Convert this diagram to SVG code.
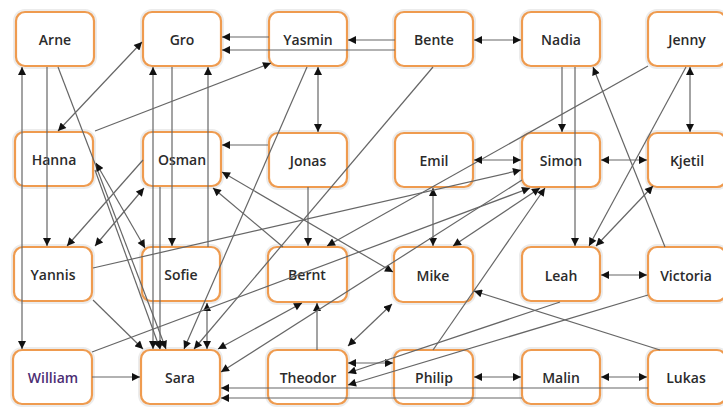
<svg xmlns="http://www.w3.org/2000/svg" width="723" height="407" viewBox="0 0 723 407">
<defs>
<marker id="a" viewBox="0 0 10 10" refX="10" refY="5" markerWidth="9" markerHeight="8" markerUnits="userSpaceOnUse" orient="auto-start-reverse"><path d="M0,0 L10,5 L0,10 z" fill="#111"/></marker>
</defs>
<style>
.n rect{fill:#fff;stroke:#ef9b4f;stroke-width:2.2}
.n .h{fill:none;stroke:#ececec;stroke-width:6}
.n text{font-family:"Open Sans","Noto Sans",sans-serif;font-size:14px;font-weight:600;fill:#2b2b2b;text-anchor:middle;dominant-baseline:central}
#edges line{stroke:#666;stroke-width:1.2;fill:none}
.e{marker-end:url(#a)}
.b{marker-start:url(#a);marker-end:url(#a)}
</style>
<rect width="723" height="407" fill="#fff"/>
<g id="nodes">
<g id="Arne" class="n"><rect class="h" x="16" y="12" width="78" height="54" rx="9"/><rect x="16" y="12" width="78" height="54" rx="9"/><text x="55" y="39">Arne</text></g>
<g id="Gro" class="n"><rect class="h" x="143" y="12" width="78" height="54" rx="9"/><rect x="143" y="12" width="78" height="54" rx="9"/><text x="182" y="39">Gro</text></g>
<g id="Yasmin" class="n"><rect class="h" x="269" y="12" width="78" height="54" rx="9"/><rect x="269" y="12" width="78" height="54" rx="9"/><text x="308" y="39">Yasmin</text></g>
<g id="Bente" class="n"><rect class="h" x="395" y="12" width="78" height="54" rx="9"/><rect x="395" y="12" width="78" height="54" rx="9"/><text x="434" y="39">Bente</text></g>
<g id="Nadia" class="n"><rect class="h" x="522" y="12" width="78" height="54" rx="9"/><rect x="522" y="12" width="78" height="54" rx="9"/><text x="561" y="39">Nadia</text></g>
<g id="Jenny" class="n"><rect class="h" x="648" y="12" width="78" height="54" rx="9"/><rect x="648" y="12" width="78" height="54" rx="9"/><text x="687" y="39">Jenny</text></g>
<g id="Hanna" class="n"><rect class="h" x="15" y="132" width="78" height="54" rx="9"/><rect x="15" y="132" width="78" height="54" rx="9"/><text x="54" y="159">Hanna</text></g>
<g id="Osman" class="n"><rect class="h" x="143" y="132" width="78" height="54" rx="9"/><rect x="143" y="132" width="78" height="54" rx="9"/><text x="182" y="159">Osman</text></g>
<g id="Jonas" class="n"><rect class="h" x="269" y="133" width="78" height="54" rx="9"/><rect x="269" y="133" width="78" height="54" rx="9"/><text x="308" y="160">Jonas</text></g>
<g id="Emil" class="n"><rect class="h" x="395" y="133" width="78" height="54" rx="9"/><rect x="395" y="133" width="78" height="54" rx="9"/><text x="434" y="160">Emil</text></g>
<g id="Simon" class="n"><rect class="h" x="522" y="133" width="78" height="54" rx="9"/><rect x="522" y="133" width="78" height="54" rx="9"/><text x="561" y="160">Simon</text></g>
<g id="Kjetil" class="n"><rect class="h" x="648" y="133" width="78" height="54" rx="9"/><rect x="648" y="133" width="78" height="54" rx="9"/><text x="687" y="160">Kjetil</text></g>
<g id="Yannis" class="n"><rect class="h" x="14" y="247" width="78" height="54" rx="9"/><rect x="14" y="247" width="78" height="54" rx="9"/><text x="53" y="274">Yannis</text></g>
<g id="Sofie" class="n"><rect class="h" x="142" y="247" width="78" height="54" rx="9"/><rect x="142" y="247" width="78" height="54" rx="9"/><text x="181" y="274">Sofie</text></g>
<g id="Bernt" class="n"><rect class="h" x="268" y="247" width="79" height="55" rx="9"/><rect x="268" y="247" width="79" height="55" rx="9"/><text x="307" y="274">Bernt</text></g>
<g id="Mike" class="n"><rect class="h" x="394" y="247" width="79" height="55" rx="9"/><rect x="394" y="247" width="79" height="55" rx="9"/><text x="433" y="275">Mike</text></g>
<g id="Leah" class="n"><rect class="h" x="522" y="247" width="78" height="54" rx="9"/><rect x="522" y="247" width="78" height="54" rx="9"/><text x="561" y="275">Leah</text></g>
<g id="Victoria" class="n"><rect class="h" x="648" y="247" width="78" height="54" rx="9"/><rect x="648" y="247" width="78" height="54" rx="9"/><text x="686" y="275">Victoria</text></g>
<g id="William" class="n"><rect class="h" x="13" y="350" width="79" height="54" rx="9"/><rect x="13" y="350" width="79" height="54" rx="9"/><text x="53" y="377" style="fill:#4b2d73">William</text></g>
<g id="Sara" class="n"><rect class="h" x="141" y="350" width="79" height="54" rx="9"/><rect x="141" y="350" width="79" height="54" rx="9"/><text x="180" y="377">Sara</text></g>
<g id="Theodor" class="n"><rect class="h" x="268" y="350" width="79" height="54" rx="9"/><rect x="268" y="350" width="79" height="54" rx="9"/><text x="308" y="377">Theodor</text></g>
<g id="Philip" class="n"><rect class="h" x="394" y="350" width="79" height="54" rx="9"/><rect x="394" y="350" width="79" height="54" rx="9"/><text x="434" y="377">Philip</text></g>
<g id="Malin" class="n"><rect class="h" x="522" y="350" width="78" height="54" rx="9"/><rect x="522" y="350" width="78" height="54" rx="9"/><text x="561" y="377">Malin</text></g>
<g id="Lukas" class="n"><rect class="h" x="648" y="350" width="78" height="54" rx="9"/><rect x="648" y="350" width="78" height="54" rx="9"/><text x="686" y="377">Lukas</text></g>
</g>
<g id="edges">
<line class="e" x1="269" y1="37" x2="222" y2="37"/>
<line class="e" x1="395" y1="50" x2="222" y2="50"/>
<line class="e" x1="395" y1="40" x2="348" y2="40"/>
<line class="b" x1="474" y1="40" x2="521" y2="40"/>
<line class="b" x1="22" y1="67" x2="22" y2="349"/>
<line class="e" x1="47" y1="67" x2="47" y2="246"/>
<line class="e" x1="58" y1="67" x2="166" y2="349"/>
<line class="b" x1="142" y1="42" x2="58" y2="131"/>
<line class="e" x1="95" y1="131" x2="271" y2="63"/>
<line class="b" x1="153" y1="67" x2="153" y2="349"/>
<line class="e" x1="172" y1="67" x2="172" y2="246"/>
<line class="e" x1="208" y1="247" x2="208" y2="67"/>
<line class="b" x1="207" y1="303" x2="207" y2="349"/>
<line class="e" x1="160" y1="187" x2="160" y2="349"/>
<line class="b" x1="318" y1="67" x2="318" y2="132"/>
<line class="e" x1="307" y1="67" x2="184" y2="349"/>
<line class="e" x1="433" y1="67" x2="194" y2="349"/>
<line class="e" x1="562" y1="67" x2="562" y2="132"/>
<line class="e" x1="575" y1="67" x2="575" y2="246"/>
<line class="e" x1="648" y1="66" x2="327" y2="246"/>
<line class="b" x1="690" y1="67" x2="690" y2="132"/>
<line class="e" x1="686" y1="67" x2="589" y2="246"/>
<line class="b" x1="601" y1="160" x2="647" y2="160"/>
<line class="b" x1="653" y1="186" x2="596" y2="246"/>
<line class="e" x1="665" y1="247" x2="593" y2="67"/>
<line class="b" x1="601" y1="275" x2="647" y2="275"/>
<line class="b" x1="601" y1="377" x2="647" y2="377"/>
<line class="b" x1="474" y1="377" x2="521" y2="377"/>
<line class="b" x1="348" y1="363" x2="393" y2="363"/>
<line class="b" x1="474" y1="160" x2="521" y2="160"/>
<line class="b" x1="433" y1="188" x2="433" y2="246"/>
<line class="b" x1="222" y1="172" x2="393" y2="272"/>
<line class="e" x1="660" y1="350" x2="474" y2="291"/>
<line class="b" x1="540" y1="188" x2="453" y2="246"/>
<line class="e" x1="317" y1="350" x2="317" y2="303"/>
<line class="b" x1="302" y1="303" x2="218" y2="349"/>
<line class="b" x1="348" y1="346" x2="392" y2="304"/>
<line class="e" x1="560" y1="302" x2="348" y2="373"/>
<line class="e" x1="648" y1="295" x2="348" y2="385"/>
<line class="e" x1="433" y1="350" x2="545" y2="188"/>
<line class="e" x1="648" y1="388" x2="221" y2="388"/>
<line class="e" x1="522" y1="398" x2="221" y2="398"/>
<line class="e" x1="92" y1="377" x2="140" y2="377"/>
<line class="e" x1="92" y1="352" x2="530" y2="188"/>
<line class="e" x1="93" y1="300" x2="143" y2="349"/>
<line class="e" x1="93" y1="268" x2="521" y2="170"/>
<line class="e" x1="143" y1="160" x2="67" y2="246"/>
<line class="b" x1="95" y1="246" x2="144" y2="188"/>
<line class="e" x1="268" y1="145" x2="222" y2="145"/>
<line class="e" x1="308" y1="187" x2="308" y2="246"/>
<line class="e" x1="283" y1="247" x2="213" y2="188"/>
<line class="b" x1="96" y1="163" x2="145" y2="248"/>
<line class="e" x1="95" y1="170" x2="160" y2="349"/>
<line class="e" x1="522" y1="180" x2="221" y2="372"/>
</g>
</svg>
